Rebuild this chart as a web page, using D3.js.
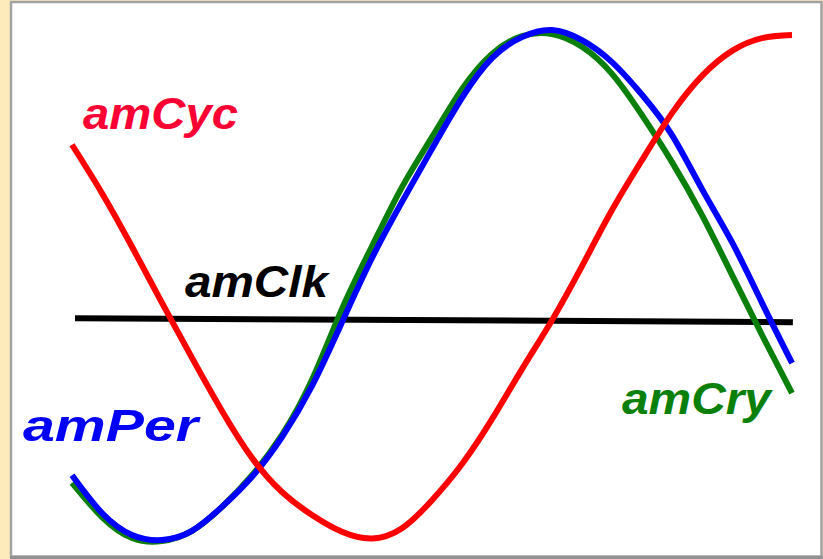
<!DOCTYPE html>
<html><head><meta charset="utf-8">
<script src="https://cdn.jsdelivr.net/npm/d3@7"></script>
<style>html,body{margin:0;padding:0;background:#feebbb;}svg{display:block;}</style>
</head><body>
<svg id="chart" width="823" height="559"></svg>
<script>
// time (hours) grid
const hours = d3.range(0, 25);
// relative expression levels (0-100)
const amCyc = [77.5, 68.0, 57.5, 46.5, 35.7, 25.3, 16.1, 9.4, 4.9, 1.6, 0.3, 2.3, 7.8, 14.9, 23.7, 33.5, 43.1, 53.7, 64.7, 74.5, 83.7, 91.0, 95.9, 98.4, 99.0];
const amPer = [12.7, 5.3, 1.0, 0.0, 1.8, 6.5, 12.4, 20.2, 30.2, 42.7, 55.3, 66.3, 76.7, 86.7, 94.5, 98.6, 100.0, 98.0, 93.7, 87.3, 79.4, 68.8, 58.4, 46.5, 34.7];
const amCry = [11.2, 4.5, 0.4, -0.2, 1.8, 6.5, 12.7, 20.6, 31.4, 45.3, 57.6, 69.2, 79.0, 88.4, 95.3, 98.8, 99.2, 96.7, 91.4, 83.3, 74.1, 63.7, 52.0, 40.2, 28.8];
const amClkHours = [0.1, 24.03];
const amClk = [43.5, 42.7];
const seriesNames = ["amClk", "amCry", "amPer", "amCyc"];

const W = 823, H = 559;
const svg = d3.select("#chart");

// frame
svg.append("rect").attr("x", 0).attr("y", 0).attr("width", W).attr("height", H).attr("fill", "#feebbb");
svg.append("rect").attr("x", 11).attr("y", 2).attr("width", 810.5).attr("height", 554.5)
  .attr("fill", "#ffffff").attr("stroke", "#a2a2a2").attr("stroke-width", 2.5);
svg.append("line").attr("x1", 10).attr("x2", 823).attr("y1", 557.5).attr("y2", 557.5)
  .attr("stroke", "#929292").attr("stroke-width", 3);

const x = d3.scaleLinear().domain([0, 24]).range([72, 792]);
const y = d3.scaleLinear().domain([0, 100]).range([540, 30]);

const smooth = d3.line().x(d => x(d[0])).y(d => y(d[1])).curve(d3.curveNatural);
const straight = d3.line().x(d => x(d[0])).y(d => y(d[1]));

const series = {
  amClk: { pts: amClkHours.map((h, i) => [h, amClk[i]]), color: "#000000" },
  amCry: { pts: hours.map((h, i) => [h, amCry[i]]), color: "#0b7f0b" },
  amPer: { pts: hours.map((h, i) => [h, amPer[i]]), color: "#0000ff" },
  amCyc: { pts: hours.map((h, i) => [h, amCyc[i]]), color: "#ff0000" }
};

svg.append("g").selectAll("path").data(seriesNames).join("path")
  .attr("d", n => n === "amClk" ? straight(series[n].pts) : smooth(series[n].pts))
  .attr("fill", "none")
  .attr("stroke", n => series[n].color)
  .attr("stroke-width", 6)
  .attr("stroke-linejoin", "round");

// labels
const labelText = ["amCyc", "amClk", "amPer", "amCry"];
const labelColor = { amCyc: "#fb0033", amClk: "#000000", amPer: "#0000f5", amCry: "#0a800a" };
const labelPlace = {
  amCyc: { x: 83, y: 129, len: 155 },
  amClk: { x: 185, y: 297, len: 143 },
  amPer: { x: 23, y: 441, len: 175 },
  amCry: { x: 622, y: 414, len: 149 }
};
svg.append("g").selectAll("text").data(labelText).join("text")
  .attr("x", d => labelPlace[d].x)
  .attr("y", d => labelPlace[d].y)
  .attr("textLength", d => labelPlace[d].len)
  .attr("lengthAdjust", "spacingAndGlyphs")
  .attr("font-family", "'Liberation Sans', Arial, Helvetica, sans-serif")
  .attr("font-weight", "bold")
  .attr("font-style", "italic")
  .attr("font-size", 44)
  .attr("fill", d => labelColor[d])
  .text(d => d);
</script>
</body></html>
